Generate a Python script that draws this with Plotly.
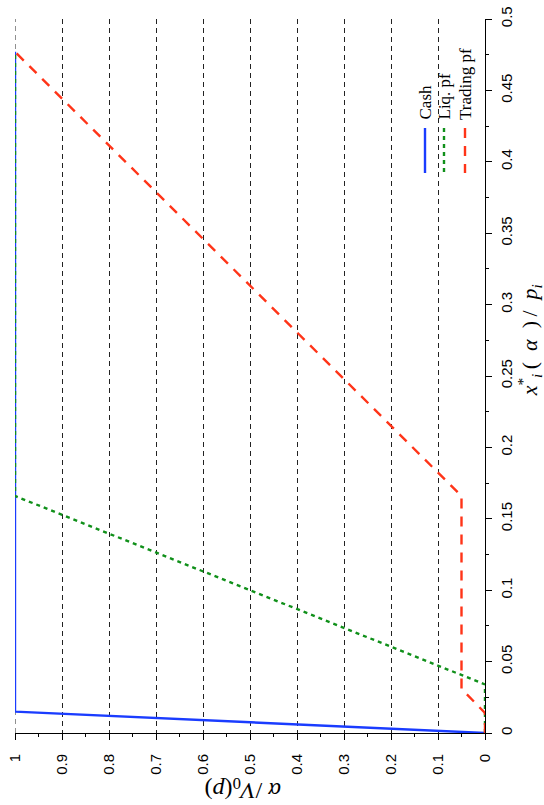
import plotly.graph_objects as go

# Fraction of initial value liquidated (alpha / V0(p)) vs. optimal holdings x_i*(alpha)/p_i
cash_x = [0.0, 0.015, 0.477]
cash_alpha = [0.0, 1.0, 1.0]

liq_x = [0.0, 0.034, 0.166, 0.477]
liq_alpha = [0.0, 0.0, 1.0, 1.0]

trading_x = [0.0, 0.014, 0.031, 0.166, 0.477]
trading_alpha = [0.0, 0.0, 0.05, 0.05, 1.0]

alpha_ticks = [0, 0.1, 0.2, 0.3, 0.4, 0.5, 0.6, 0.7, 0.8, 0.9, 1]
alpha_labels = ["0", "0.1", "0.2", "0.3", "0.4", "0.5", "0.6", "0.7", "0.8", "0.9", "1"]
x_ticks = [0, 0.05, 0.1, 0.15, 0.2, 0.25, 0.3, 0.35, 0.4, 0.45, 0.5]
x_labels = ["0", "0.05", "0.1", "0.15", "0.2", "0.25", "0.3", "0.35", "0.4", "0.45", "0.5"]

series_names = ["Cash", "Liq. pf", "Trading pf"]
series_colors = ["#1a3cff", "#10901a", "#ff3418"]
series_dash = ["solid", "4px,4px", "10px,8px"]

BLACK = "#000000"
TICK_FONT = dict(family="Liberation Sans, Arial, sans-serif", size=15, color=BLACK)
SERIF = "Liberation Serif, Times New Roman, serif"
SP = "\u2002"   # en space
TSP = "\u2009"  # thin space

fig = go.Figure()

# horizontal axis = alpha (reversed), vertical axis = x*/p; the whole chart is laid out sideways
for xs, al, name, col, dash in zip(
    [cash_x, liq_x, trading_x],
    [cash_alpha, liq_alpha, trading_alpha],
    series_names, series_colors, series_dash,
):
    fig.add_trace(go.Scatter(
        x=al, y=xs, mode="lines", name=name,
        line=dict(color=col, width=2.4, dash=dash),
        showlegend=False,
    ))

fig.update_layout(
    width=544, height=805,
    margin=dict(l=15, r=59, t=19, b=72),
    paper_bgcolor="white", plot_bgcolor="white",
    xaxis=dict(
        range=[1, 0], tickvals=alpha_ticks, ticktext=alpha_labels,
        tickangle=-90, tickfont=TICK_FONT, automargin=False,
        showline=True, linecolor=BLACK, linewidth=1,
        ticks="outside", ticklen=6, tickcolor=BLACK, tickwidth=1,
        minor=dict(dtick=0.05, ticks="outside", ticklen=3, tickcolor=BLACK, showgrid=False),
        showgrid=True, gridcolor="#222222", gridwidth=1, griddash="5px,4px",
        zeroline=False, layer="below traces", ticklabelstandoff=8,
    ),
    yaxis=dict(
        range=[0, 0.5], side="right", tickvals=x_ticks, ticktext=x_labels,
        tickangle=-90, tickfont=TICK_FONT, automargin=False,
        showline=True, linecolor=BLACK, linewidth=1,
        ticks="outside", ticklen=6, tickcolor=BLACK, tickwidth=1,
        minor=dict(dtick=0.025, ticks="outside", ticklen=3, tickcolor=BLACK, showgrid=False),
        showgrid=False, zeroline=False, layer="below traces", ticklabelstandoff=2,
    ),
)

# dashed grid line along the alpha = 1 edge
fig.add_shape(
    type="line", xref="x", yref="paper", x0=1, x1=1, y0=0, y1=1,
    line=dict(color="#222222", width=1, dash="5px,4px"), layer="below",
)

# axis titles, rotated with the rest of the chart
right_title = (
    "<i>x</i><sup>*</sup><sub><i>i</i></sub>" + TSP + "(" + SP + "<i>α</i>" + SP + ")"
    + TSP + "/" + SP + "<i>p</i><sub><i>i</i></sub>"
)
fig.add_annotation(
    xref="paper", yref="paper", x=1.131, y=0.55,
    text=right_title,
    textangle=-90, showarrow=False, font=dict(family=SERIF, size=22, color=BLACK),
)
fig.add_annotation(
    xref="paper", yref="paper", x=0.485, y=-0.102,
    text="<i>α</i> /<i>V</i><sub>0</sub>(<i>p</i>)",
    textangle=180, showarrow=False, font=dict(family=SERIF, size=24, color=BLACK),
)

# legend drawn sideways: short line sample below each rotated label
def px_x(p):
    return (p - 15) / 470.0

def px_y(p):
    return (733 - p) / 714.0

legend_cols = [425, 444, 465]
for cx, name, col, dash in zip(legend_cols, series_names, series_colors, series_dash):
    fig.add_shape(
        type="line", xref="paper", yref="paper",
        x0=px_x(cx), x1=px_x(cx), y0=px_y(128), y1=px_y(173),
        line=dict(color=col, width=2.4, dash=dash),
    )
    fig.add_annotation(
        xref="paper", yref="paper", x=px_x(cx), y=px_y(122),
        xanchor="center", yanchor="bottom",
        text=name, textangle=-90, showarrow=False,
        font=dict(family=SERIF, size=17, color=BLACK),
    )

fig.write_html("out.html")
